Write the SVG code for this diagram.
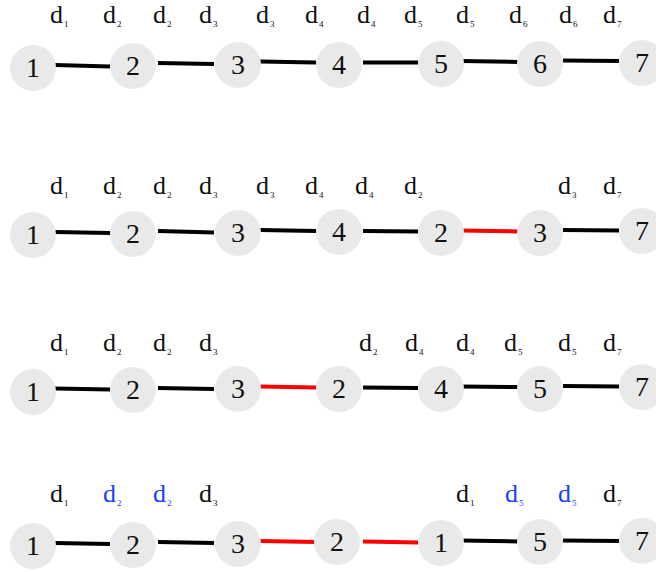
<svg xmlns="http://www.w3.org/2000/svg" width="656" height="572" viewBox="0 0 656 572">
<style>
.n circle{fill:#e9e9e9}
.n text{font-family:"Liberation Serif","DejaVu Serif",serif;font-size:28px;text-anchor:middle;fill:#111}
.lb text{font-family:"Liberation Serif","DejaVu Serif",serif;font-size:26px;fill:#111}
.lb .b{fill:#1a3cff}
.s{font-size:9px}
.e line{stroke:#000;stroke-width:4;stroke-linecap:butt}
.e line.r{stroke:#f00}
</style>
<rect width="656" height="572" fill="#fff"/>
<g class="lb" id="labels-row1">
<text x="50" y="23">d<tspan class="s" dx="1" dy="4">1</tspan></text>
<text x="103" y="23">d<tspan class="s" dx="1" dy="4">2</tspan></text>
<text x="153" y="23">d<tspan class="s" dx="1" dy="4">2</tspan></text>
<text x="199" y="23">d<tspan class="s" dx="1" dy="4">3</tspan></text>
<text x="256" y="23">d<tspan class="s" dx="1" dy="4">3</tspan></text>
<text x="305" y="23">d<tspan class="s" dx="1" dy="4">4</tspan></text>
<text x="357" y="23">d<tspan class="s" dx="1" dy="4">4</tspan></text>
<text x="404" y="23">d<tspan class="s" dx="1" dy="4">5</tspan></text>
<text x="456" y="23">d<tspan class="s" dx="1" dy="4">5</tspan></text>
<text x="509" y="23">d<tspan class="s" dx="1" dy="4">6</tspan></text>
<text x="559" y="23">d<tspan class="s" dx="1" dy="4">6</tspan></text>
<text x="603" y="23">d<tspan class="s" dx="1" dy="4">7</tspan></text>
</g>
<g class="lb" id="labels-row2">
<text x="50" y="194">d<tspan class="s" dx="1" dy="4">1</tspan></text>
<text x="103" y="194">d<tspan class="s" dx="1" dy="4">2</tspan></text>
<text x="153" y="194">d<tspan class="s" dx="1" dy="4">2</tspan></text>
<text x="199" y="194">d<tspan class="s" dx="1" dy="4">3</tspan></text>
<text x="256" y="194">d<tspan class="s" dx="1" dy="4">3</tspan></text>
<text x="305" y="194">d<tspan class="s" dx="1" dy="4">4</tspan></text>
<text x="355" y="194">d<tspan class="s" dx="1" dy="4">4</tspan></text>
<text x="404" y="194">d<tspan class="s" dx="1" dy="4">2</tspan></text>
<text x="558" y="194">d<tspan class="s" dx="1" dy="4">3</tspan></text>
<text x="603" y="194">d<tspan class="s" dx="1" dy="4">7</tspan></text>
</g>
<g class="lb" id="labels-row3">
<text x="50" y="351">d<tspan class="s" dx="1" dy="4">1</tspan></text>
<text x="103" y="351">d<tspan class="s" dx="1" dy="4">2</tspan></text>
<text x="153" y="351">d<tspan class="s" dx="1" dy="4">2</tspan></text>
<text x="199" y="351">d<tspan class="s" dx="1" dy="4">3</tspan></text>
<text x="359" y="351">d<tspan class="s" dx="1" dy="4">2</tspan></text>
<text x="405" y="351">d<tspan class="s" dx="1" dy="4">4</tspan></text>
<text x="456" y="351">d<tspan class="s" dx="1" dy="4">4</tspan></text>
<text x="504" y="351">d<tspan class="s" dx="1" dy="4">5</tspan></text>
<text x="558" y="351">d<tspan class="s" dx="1" dy="4">5</tspan></text>
<text x="603" y="351">d<tspan class="s" dx="1" dy="4">7</tspan></text>
</g>
<g class="lb" id="labels-row4">
<text x="50" y="502">d<tspan class="s" dx="1" dy="4">1</tspan></text>
<text class="b" x="103" y="502">d<tspan class="s" dx="1" dy="4">2</tspan></text>
<text class="b" x="153" y="502">d<tspan class="s" dx="1" dy="4">2</tspan></text>
<text x="199" y="502">d<tspan class="s" dx="1" dy="4">3</tspan></text>
<text x="456" y="502">d<tspan class="s" dx="1" dy="4">1</tspan></text>
<text class="b" x="505" y="502">d<tspan class="s" dx="1" dy="4">5</tspan></text>
<text class="b" x="558" y="502">d<tspan class="s" dx="1" dy="4">5</tspan></text>
<text x="603" y="502">d<tspan class="s" dx="1" dy="4">7</tspan></text>
</g>
<g class="e" id="connectors">
<line x1="55" y1="65" x2="110" y2="66.5"/>
<line x1="158" y1="63" x2="214" y2="64"/>
<line x1="260" y1="61.5" x2="316" y2="62.5"/>
<line x1="363" y1="62.5" x2="418" y2="62.5"/>
<line x1="461" y1="61" x2="518" y2="62"/>
<line x1="563" y1="60.5" x2="619" y2="61"/>
<line x1="55" y1="232" x2="110" y2="233"/>
<line x1="158" y1="231" x2="214" y2="232.5"/>
<line x1="260" y1="230" x2="316" y2="231"/>
<line x1="363" y1="231" x2="418" y2="231.5"/>
<line class="r" x1="461" y1="230.5" x2="518" y2="231.5"/>
<line x1="563" y1="230" x2="619" y2="230.5"/>
<line x1="55" y1="388.5" x2="110" y2="389.5"/>
<line x1="158" y1="388" x2="214" y2="389"/>
<line class="r" x1="260" y1="386.5" x2="316" y2="387.5"/>
<line x1="363" y1="387.5" x2="418" y2="388"/>
<line x1="461" y1="386.5" x2="518" y2="387"/>
<line x1="563" y1="386" x2="619" y2="386.5"/>
<line x1="55" y1="543" x2="110" y2="544"/>
<line x1="158" y1="542" x2="214" y2="543"/>
<line class="r" x1="260" y1="541" x2="316" y2="542"/>
<line class="r" x1="363" y1="541.5" x2="418" y2="542.5"/>
<line x1="461" y1="540.5" x2="518" y2="541.5"/>
<line x1="563" y1="540.5" x2="619" y2="541"/>
</g>
<g class="n" id="r1-n1"><circle cx="33" cy="68" r="23"/><text x="33" y="77">1</text></g>
<g class="n" id="r1-n2"><circle cx="133" cy="66" r="23"/><text x="133" y="75">2</text></g>
<g class="n" id="r1-n3"><circle cx="238" cy="65" r="23"/><text x="238" y="74">3</text></g>
<g class="n" id="r1-n4"><circle cx="339" cy="65" r="23"/><text x="339" y="74">4</text></g>
<g class="n" id="r1-n5"><circle cx="441" cy="64" r="23"/><text x="441" y="73">5</text></g>
<g class="n" id="r1-n6"><circle cx="540" cy="64" r="23"/><text x="540" y="73">6</text></g>
<g class="n" id="r1-n7"><circle cx="642" cy="63" r="23"/><text x="642" y="72">7</text></g>
<g class="n" id="r2-n1"><circle cx="33" cy="235" r="23"/><text x="33" y="244">1</text></g>
<g class="n" id="r2-n2"><circle cx="133" cy="234" r="23"/><text x="133" y="243">2</text></g>
<g class="n" id="r2-n3"><circle cx="238" cy="233" r="23"/><text x="238" y="242">3</text></g>
<g class="n" id="r2-n4"><circle cx="339" cy="232" r="23"/><text x="339" y="241">4</text></g>
<g class="n" id="r2-n2b"><circle cx="441" cy="233" r="23"/><text x="441" y="242">2</text></g>
<g class="n" id="r2-n3b"><circle cx="540" cy="233" r="23"/><text x="540" y="242">3</text></g>
<g class="n" id="r2-n7"><circle cx="642" cy="231" r="23"/><text x="642" y="240">7</text></g>
<g class="n" id="r3-n1"><circle cx="33" cy="392" r="23"/><text x="33" y="401">1</text></g>
<g class="n" id="r3-n2"><circle cx="133" cy="390" r="23"/><text x="133" y="399">2</text></g>
<g class="n" id="r3-n3"><circle cx="238" cy="389" r="23"/><text x="238" y="398">3</text></g>
<g class="n" id="r3-n2b"><circle cx="339" cy="389" r="23"/><text x="339" y="398">2</text></g>
<g class="n" id="r3-n4"><circle cx="441" cy="389" r="23"/><text x="441" y="398">4</text></g>
<g class="n" id="r3-n5"><circle cx="540" cy="389" r="23"/><text x="540" y="398">5</text></g>
<g class="n" id="r3-n7"><circle cx="642" cy="387" r="23"/><text x="642" y="396">7</text></g>
<g class="n" id="r4-n1"><circle cx="33" cy="546" r="23"/><text x="33" y="555">1</text></g>
<g class="n" id="r4-n2"><circle cx="133" cy="545" r="23"/><text x="133" y="554">2</text></g>
<g class="n" id="r4-n3"><circle cx="238" cy="544" r="23"/><text x="238" y="553">3</text></g>
<g class="n" id="r4-n2b"><circle cx="337" cy="542" r="23"/><text x="337" y="551">2</text></g>
<g class="n" id="r4-n1b"><circle cx="441" cy="543" r="23"/><text x="441" y="552">1</text></g>
<g class="n" id="r4-n5"><circle cx="540" cy="542" r="23"/><text x="540" y="551">5</text></g>
<g class="n" id="r4-n7"><circle cx="642" cy="541" r="23"/><text x="642" y="550">7</text></g>
</svg>
